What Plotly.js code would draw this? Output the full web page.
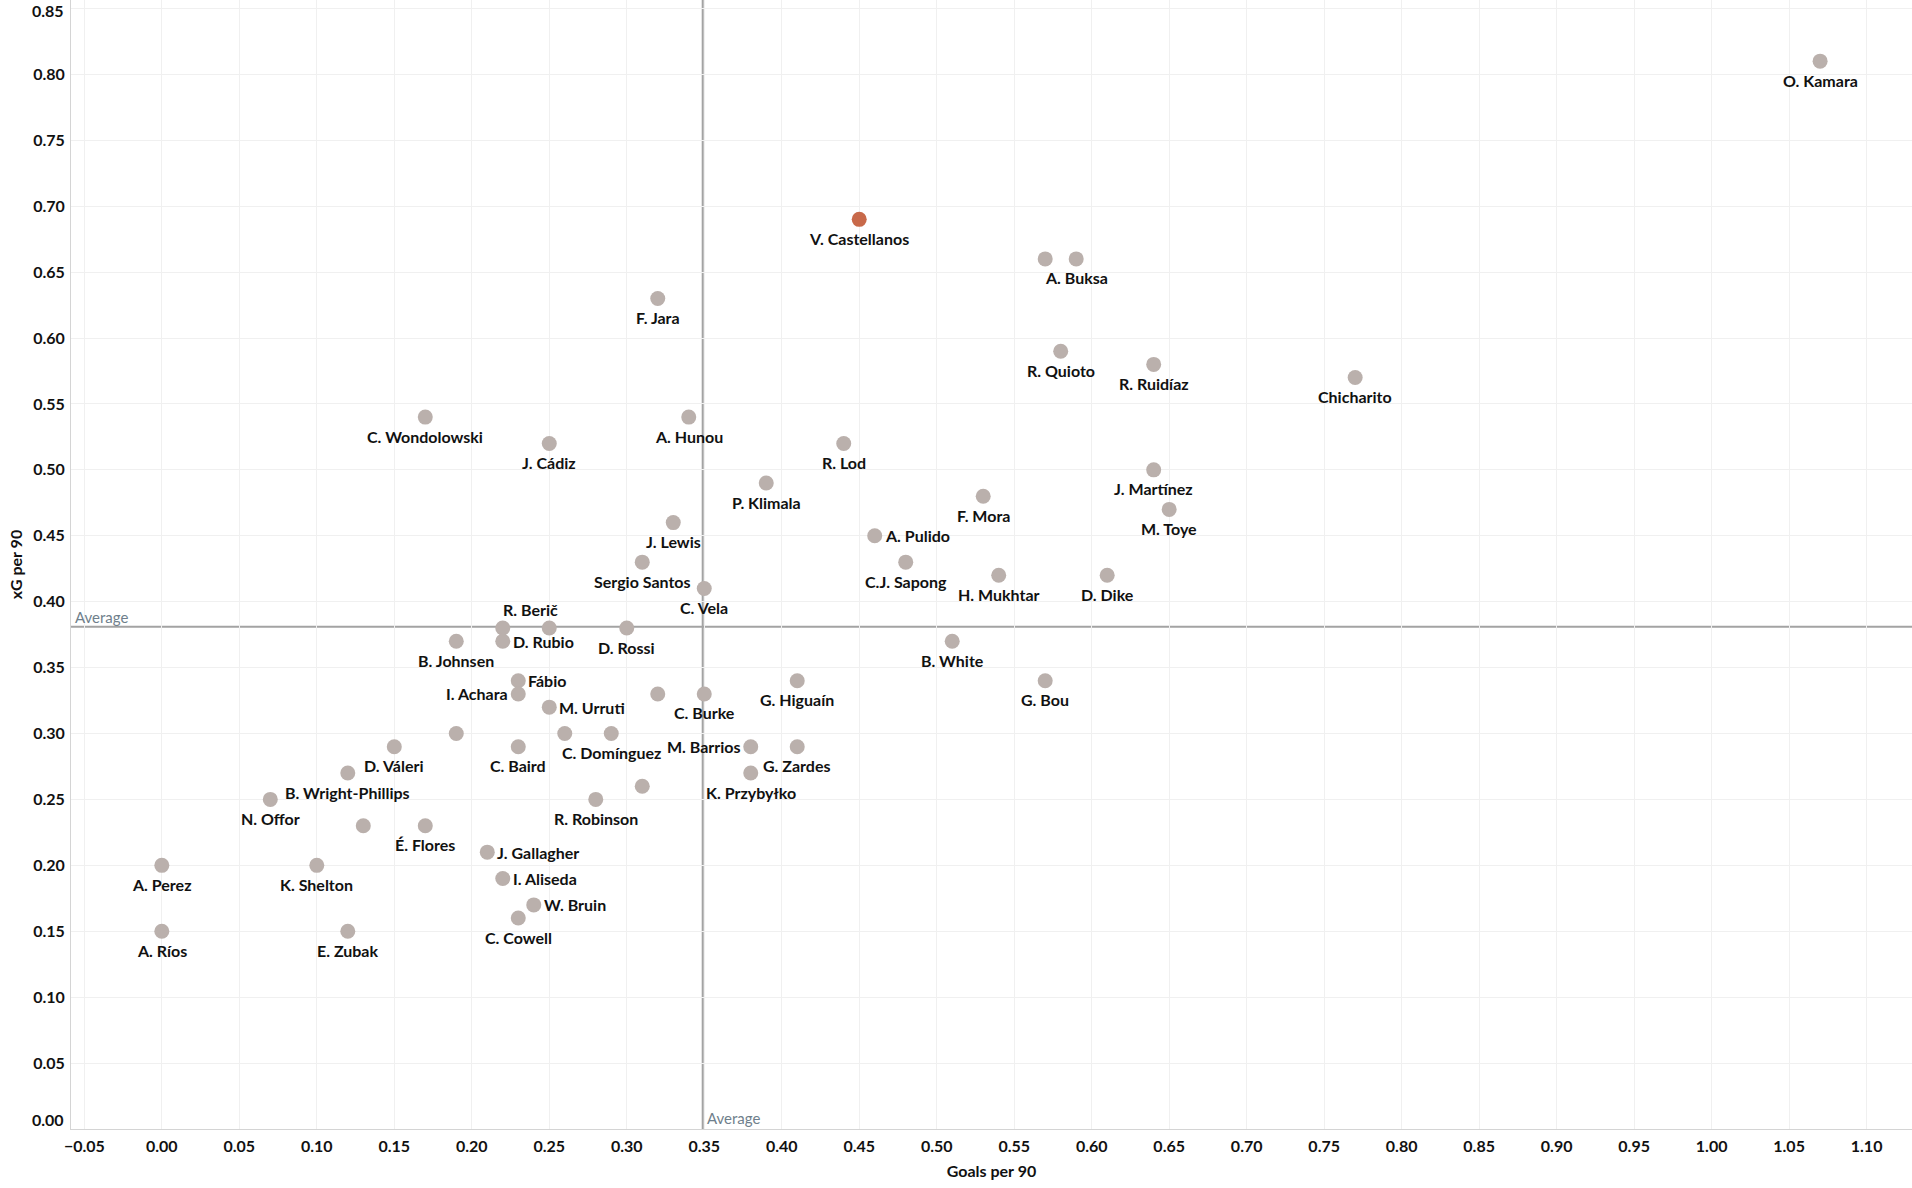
<!DOCTYPE html>
<html>
<head>
<meta charset="utf-8">
<script src="https://cdn.plot.ly/plotly-3.0.1.min.js"></script>
<style>
  html, body { margin: 0; padding: 0; background: #ffffff; }
  #chart { width: 1912px; height: 1188px; }
</style>
</head>
<body>
<div id="chart"></div>
<script>
// ---- data ----
const players = [
  "O. Kamara", "V. Castellanos", "", "A. Buksa", "F. Jara", "R. Quioto", "R. Ruidíaz", "Chicharito",
  "C. Wondolowski", "A. Hunou", "J. Cádiz", "R. Lod", "J. Martínez", "P. Klimala", "F. Mora", "M. Toye",
  "J. Lewis", "A. Pulido", "Sergio Santos", "C.J. Sapong", "H. Mukhtar", "D. Dike", "C. Vela",
  "R. Berič", "", "D. Rossi", "B. Johnsen", "D. Rubio", "B. White", "Fábio", "G. Higuaín", "G. Bou",
  "I. Achara", "", "C. Burke", "M. Urruti", "", "", "C. Domínguez", "D. Váleri", "C. Baird",
  "M. Barrios", "G. Zardes", "B. Wright-Phillips", "K. Przybyłko", "", "N. Offor", "R. Robinson",
  "", "É. Flores", "J. Gallagher", "A. Perez", "K. Shelton", "I. Aliseda", "W. Bruin", "C. Cowell",
  "A. Ríos", "E. Zubak"
];
const goalsPer90 = [
  1.07, 0.45, 0.57, 0.59, 0.32, 0.58, 0.64, 0.77,
  0.17, 0.34, 0.25, 0.44, 0.64, 0.39, 0.53, 0.65,
  0.33, 0.46, 0.31, 0.48, 0.54, 0.61, 0.35,
  0.22, 0.25, 0.30, 0.19, 0.22, 0.51, 0.23, 0.41, 0.57,
  0.23, 0.32, 0.35, 0.25, 0.19, 0.26, 0.29, 0.15, 0.23,
  0.38, 0.41, 0.12, 0.38, 0.31, 0.07, 0.28,
  0.13, 0.17, 0.21, 0.00, 0.10, 0.22, 0.24, 0.23,
  0.00, 0.12
];
const xgPer90 = [
  0.81, 0.69, 0.66, 0.66, 0.63, 0.59, 0.58, 0.57,
  0.54, 0.54, 0.52, 0.52, 0.50, 0.49, 0.48, 0.47,
  0.46, 0.45, 0.43, 0.43, 0.42, 0.42, 0.41,
  0.38, 0.38, 0.38, 0.37, 0.37, 0.37, 0.34, 0.34, 0.34,
  0.33, 0.33, 0.33, 0.32, 0.30, 0.30, 0.30, 0.29, 0.29,
  0.29, 0.29, 0.27, 0.27, 0.26, 0.25, 0.25,
  0.23, 0.23, 0.21, 0.20, 0.20, 0.19, 0.17, 0.16,
  0.15, 0.15
];
const yTickVals = [0.00, 0.05, 0.10, 0.15, 0.20, 0.25, 0.30, 0.35, 0.40, 0.45, 0.50, 0.55, 0.60, 0.65, 0.70, 0.75, 0.80, 0.85];
const highlightPlayer = "V. Castellanos";
const avgGoalsPer90 = 0.349;
const avgXgPer90 = 0.381;
const avgLabel = "Average";
const xTitle = "Goals per 90";
const yTitle = "xG per 90";

// ---- label placement (style) ----
const labelSide = {
  "A. Pulido": "r", "D. Rubio": "r", "Fábio": "r", "M. Urruti": "r",
  "J. Gallagher": "r", "I. Aliseda": "r", "W. Bruin": "r",
  "I. Achara": "l", "M. Barrios": "l",
  "R. Berič": "tr"
};

const FONT = "Lato, 'Open Sans', sans-serif";
const GREY = "#bab0ac";
const ORANGE = "#c8694a";
const FS = 16;

const isHi = players.map(p => p === highlightPlayer);
const baseTrace = {
  type: "scatter", mode: "markers",
  x: goalsPer90.filter((_, i) => !isHi[i]),
  y: xgPer90.filter((_, i) => !isHi[i]),
  marker: { size: 15, color: GREY, line: { width: 0 } },
  hoverinfo: "skip", showlegend: false
};
const hiTrace = {
  type: "scatter", mode: "markers",
  x: goalsPer90.filter((_, i) => isHi[i]),
  y: xgPer90.filter((_, i) => isHi[i]),
  marker: { size: 15, color: ORANGE, line: { width: 0 } },
  hoverinfo: "skip", showlegend: false
};

const tickFont = { family: FONT, size: FS, color: "#111111", weight: 700 };
const annotations = [];
players.forEach((name, i) => {
  if (!name) return;
  const side = labelSide[name] || "b";
  const a = {
    x: goalsPer90[i], y: xgPer90[i], xref: "x", yref: "y",
    text: name, showarrow: false,
    font: tickFont,
    xanchor: "center", yanchor: "middle"
  };
  if (side === "b") { a.yshift = -19; }
  else if (side === "r") { a.xanchor = "left"; a.xshift = 8; }
  else if (side === "l") { a.xanchor = "right"; a.xshift = -8; }
  else if (side === "tr") { a.xanchor = "left"; a.xshift = -2; a.yshift = 19; }
  annotations.push(a);
});
annotations.push({
  x: 0, xref: "paper", y: avgXgPer90, yref: "y",
  text: avgLabel, showarrow: false, xanchor: "left", yanchor: "bottom",
  xshift: 2, yshift: -1,
  font: { family: FONT, size: 15, color: "#6f7f8c" }
});
annotations.push({
  x: avgGoalsPer90, xref: "x", y: 0, yref: "paper",
  text: avgLabel, showarrow: false, xanchor: "left", yanchor: "bottom",
  xshift: 2, yshift: 0,
  font: { family: FONT, size: 15, color: "#6f7f8c" }
});
// end labels of the y axis are nudged inward so they stay inside the picture
const firstY = yTickVals[0], lastY = yTickVals[yTickVals.length - 1];
annotations.push({
  x: 0, xref: "paper", y: firstY, yref: "y",
  text: firstY.toFixed(2), showarrow: false, xanchor: "right", yanchor: "middle",
  xshift: -5, yshift: 10, font: tickFont
});
annotations.push({
  x: 0, xref: "paper", y: lastY, yref: "y",
  text: lastY.toFixed(2), showarrow: false, xanchor: "right", yanchor: "middle",
  xshift: -5, yshift: -2, font: tickFont
});

const shapes = [
  { type: "line", xref: "x", yref: "paper", x0: avgGoalsPer90, x1: avgGoalsPer90, y0: 0, y1: 1,
    line: { color: "#a3a3a3", width: 2 }, layer: "below" },
  { type: "line", xref: "paper", yref: "y", x0: 0, x1: 1, y0: avgXgPer90, y1: avgXgPer90,
    line: { color: "#a3a3a3", width: 2 }, layer: "below" }
];

const axisCommon = {
  showgrid: true, gridcolor: "#f0f0f0", gridwidth: 1,
  zeroline: false, showline: true, linecolor: "#d4d4d4", linewidth: 1,
  ticks: "", tickformat: ".2f",
  ticklabeloverflow: "allow",
  tickfont: tickFont,
  fixedrange: true
};

const layout = {
  width: 1912, height: 1188,
  margin: { l: 71, r: 0, t: 0, b: 59 },
  paper_bgcolor: "#ffffff", plot_bgcolor: "#ffffff",
  font: { family: FONT },
  xaxis: Object.assign({}, axisCommon, {
    range: [-0.0586, 1.1293], tick0: 0, dtick: 0.05,
    ticklabelstandoff: 3,
    title: { text: xTitle, font: tickFont, standoff: 11 }
  }),
  yaxis: Object.assign({}, axisCommon, {
    range: [0, 0.8564],
    tickmode: "array", tickvals: yTickVals,
    ticktext: yTickVals.map(v => (v === firstY || v === lastY) ? "" : v.toFixed(2)),
    ticklabelstandoff: 2,
    title: { text: yTitle, font: tickFont, standoff: 6 }
  }),
  shapes: shapes,
  annotations: annotations,
  showlegend: false,
  hovermode: false
};

Plotly.newPlot("chart", [baseTrace, hiTrace], layout, { displayModeBar: false, staticPlot: true });
</script>
</body>
</html>
